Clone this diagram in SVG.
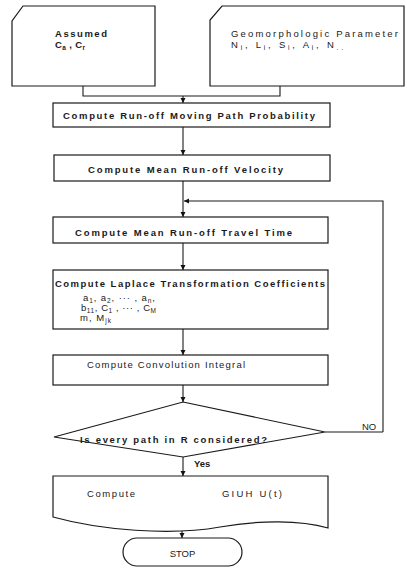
<svg xmlns="http://www.w3.org/2000/svg" width="407" height="568" viewBox="0 0 407 568">
<defs>
<marker id="ah" viewBox="0 0 10 10" refX="10" refY="5" markerWidth="5" markerHeight="6" orient="auto" markerUnits="userSpaceOnUse">
<path d="M0,0 L10,5 L0,10 Z" fill="#111"/>
</marker>
<style>
.s{fill:#fff;stroke:#1a1a1a;stroke-width:1.2}
.c{fill:none;stroke:#1a1a1a;stroke-width:1.1}
text{font-family:"Liberation Sans","DejaVu Sans",sans-serif;font-size:9.5px;font-weight:bold;fill:#1a1a1a}
.n{font-weight:normal}
.sub{font-size:6.5px}
</style>
</defs>
<rect width="407" height="568" fill="#fff"/>
<g id="connectors">
<path class="c" d="M83,86 V96 H280 V86"/>
<path class="c" d="M183,96 V103" marker-end="url(#ah)"/>
<path class="c" d="M183,127 V155" marker-end="url(#ah)"/>
<path class="c" d="M183,181 V217" marker-end="url(#ah)"/>
<path class="c" d="M383,432 V201 H184" marker-end="url(#ah)"/>
<path class="c" d="M325,432 H383"/>
<path class="c" d="M183,243 V270" marker-end="url(#ah)"/>
<path class="c" d="M183,329 V355" marker-end="url(#ah)"/>
<path class="c" d="M183,385 V402" marker-end="url(#ah)"/>
<path class="c" d="M183,457 V476" marker-end="url(#ah)"/>
<path class="c" d="M182,530 V538" marker-end="url(#ah)"/>
<text class="n" x="362" y="430">NO</text>
<text x="194" y="467">Yes</text>
</g>
<g id="assumed">
<path class="s" d="M23,6 H155 V86 H12 V21 Z"/>
<text x="55" y="37" textLength="52">Assumed</text>
<text x="55" y="48" textLength="30">C<tspan class="sub" dy="1.5">a</tspan><tspan dy="-1.5"> , C</tspan><tspan class="sub" dy="1.5">r</tspan></text>
</g>
<g id="geomorph">
<path class="s" d="M222,6 H404 V86 H210 V20 Z"/>
<text class="n" x="231" y="37" textLength="167">Geomorphologic Parameter</text>
<text class="n" x="231" y="48" textLength="112">N<tspan class="sub" dy="1.5">i</tspan><tspan dy="-1.5">, L</tspan><tspan class="sub" dy="1.5">i</tspan><tspan dy="-1.5">, S</tspan><tspan class="sub" dy="1.5">i</tspan><tspan dy="-1.5">, A</tspan><tspan class="sub" dy="1.5">i</tspan><tspan dy="-1.5">, N</tspan><tspan class="sub" dy="1.5">..</tspan></text>
</g>
<g id="prob">
<rect class="s" x="53" y="103" width="277" height="24"/>
<text x="63" y="119" textLength="252">Compute Run-off Moving Path Probability</text>
</g>
<g id="velocity">
<rect class="s" x="54" y="155" width="276" height="26"/>
<text x="88" y="173" textLength="195">Compute Mean Run-off Velocity</text>
</g>
<g id="travel">
<rect class="s" x="53" y="217" width="275" height="26"/>
<text x="75" y="236" textLength="217">Compute Mean Run-off Travel Time</text>
</g>
<g id="laplace">
<rect class="s" x="53" y="270" width="275" height="59"/>
<text x="55" y="287" textLength="270">Compute Laplace Transformation Coefficients</text>
<text class="n" x="83" y="301" textLength="72">a<tspan class="sub" dy="1.5">1</tspan><tspan dy="-1.5">, a</tspan><tspan class="sub" dy="1.5">2</tspan><tspan dy="-1.5">, ··· , a</tspan><tspan class="sub" dy="1.5">n</tspan><tspan dy="-1.5">,</tspan></text>
<text class="n" x="81" y="311" textLength="75">b<tspan class="sub" dy="1.5">11</tspan><tspan dy="-1.5">, C</tspan><tspan class="sub" dy="1.5">1</tspan><tspan dy="-1.5"> , ··· , C</tspan><tspan class="sub" dy="1.5">M</tspan></text>
<text class="n" x="80" y="321" textLength="31">m, M<tspan class="sub" dy="1.5">jk</tspan></text>
</g>
<g id="convolution">
<rect class="s" x="53" y="355" width="275" height="30"/>
<text class="n" x="87" y="368" textLength="158">Compute Convolution Integral</text>
</g>
<g id="decision">
<path class="s" d="M183,402 L325,432 L183,457 L54,437 Z"/>
<text x="80" y="443" textLength="187">Is every path in R considered?</text>
</g>
<g id="giuh">
<path class="s" d="M53,476 H328 V528 C300,520 260,520 220,527 C170,536 100,530 53,517 Z"/>
<text class="n" x="87" y="497" textLength="48">Compute</text>
<text class="n" x="222" y="497" textLength="60">GIUH U(t)</text>
</g>
<g id="stop">
<rect class="s" x="123" y="538" width="119" height="28" rx="14"/>
<text class="n" x="182.5" y="557" text-anchor="middle">STOP</text>
</g>
</svg>
